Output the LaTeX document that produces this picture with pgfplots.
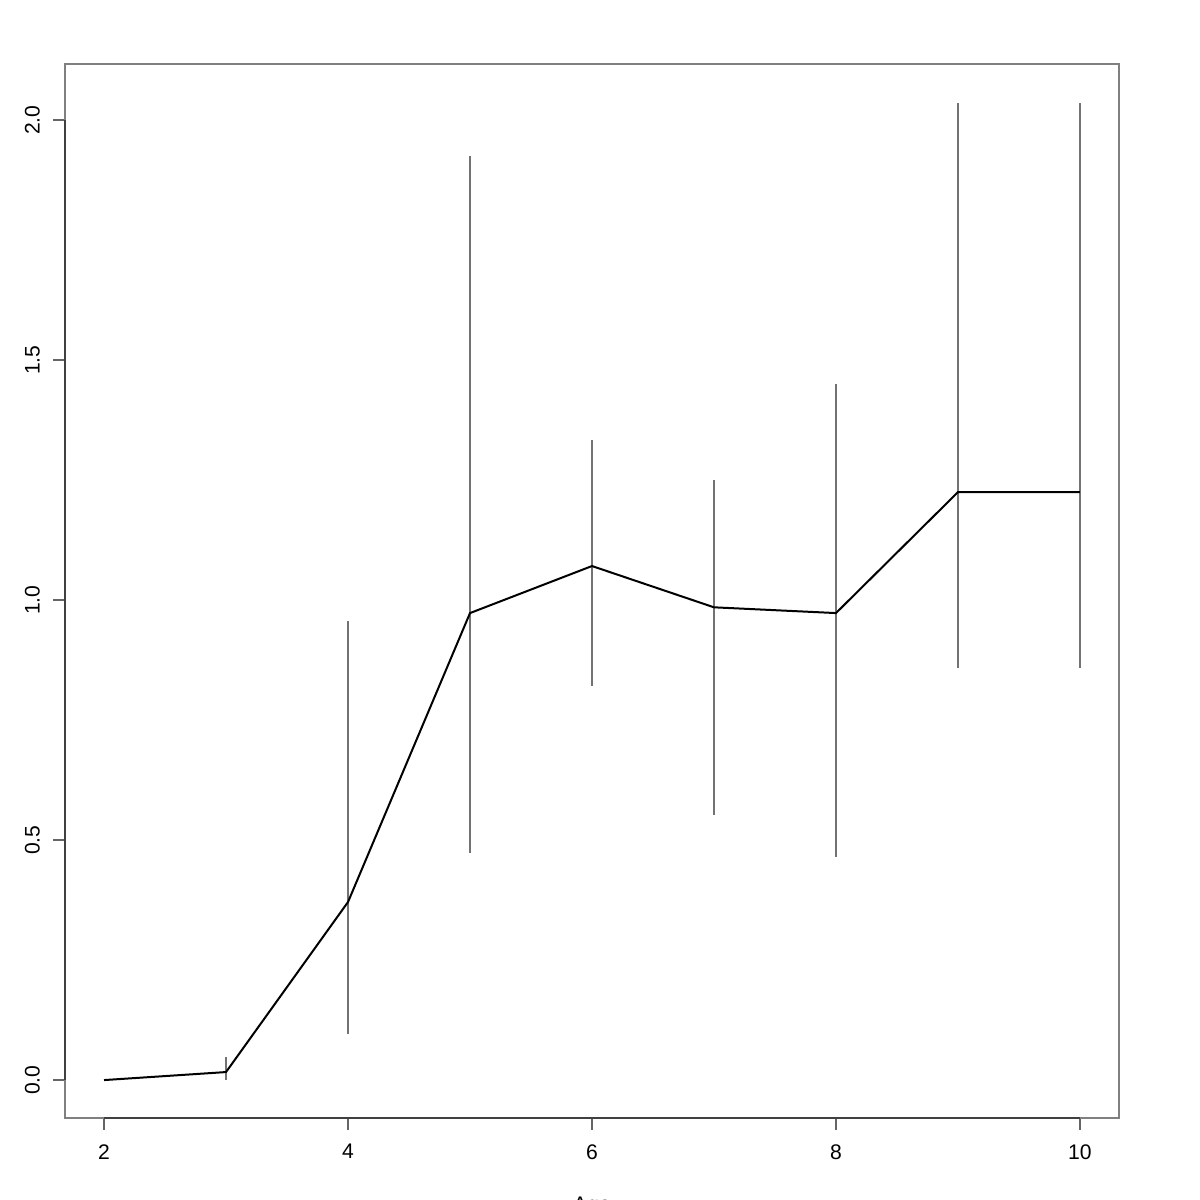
\documentclass[border=0pt]{standalone}
\usepackage{pgfplots}
\pgfplotsset{compat=1.18}
\usepackage{pgfplotstable}
\usepackage{fontspec}
\setmainfont{Liberation Sans}
\pgfplotstableread{
x y ep em
2 0.000 0.000 0.000
3 0.0167 0.031 0.0167
4 0.371 0.585 0.275
5 0.973 0.952 0.500
6 1.071 0.262 0.250
7 0.985 0.265 0.433
8 0.973 0.477 0.508
9 1.225 0.810 0.367
10 1.225 0.810 0.367
}\datatable
\begin{document}
\begin{tikzpicture}
\begin{axis}[
  scale only axis,
  width=379.44pt, height=379.44pt,
  at={(23.4pt,29.52pt)}, anchor=south west,
  xmin=1.68, xmax=10.32,
  ymin=-0.079, ymax=2.117,
  xtick={2,4,6,8,10},
  ytick={0,0.5,1,1.5,2},
  yticklabels={\rotatebox{90}{0.0},\rotatebox{90}{0.5},\rotatebox{90}{1.0},\rotatebox{90}{1.5},\rotatebox{90}{2.0}},
  tick align=outside,
  major tick length=4.3pt,
  tick style={line width=0.5pt, black!60},
  xtick pos=bottom, ytick pos=left,
  axis line style={line width=0.5pt, black!50},
  /pgf/number format/assume math mode=true,
  font=\fontsize{7.6pt}{9pt}\selectfont,
  xticklabel style={anchor=north, inner sep=0pt, yshift=-5pt},
  yticklabel style={anchor=east, inner sep=0pt, xshift=-4.6pt},
  xlabel={Age},
  xlabel style={at={(axis description cs:0.5,0)}, anchor=north, inner sep=0pt, yshift=-28.4pt},
  clip=false,
]
\draw[black!75, line width=0.5pt] (axis cs:2,-0.079) -- (axis cs:10,-0.079);
\draw[black!75, line width=0.5pt] (axis cs:1.68,0) -- (axis cs:1.68,2);
\addplot[draw=none, mark=none,
  error bars/.cd, y dir=both, y explicit, error mark=none,
  error bar style={line width=0.5pt, black!55}]
  table[x=x, y=y, y error plus=ep, y error minus=em] {\datatable};
\addplot[black, line width=0.72pt, mark=none] table[x=x, y=y] {\datatable};
\end{axis}
\pgfresetboundingbox
\path (0,0) rectangle (432pt,432pt);
\end{tikzpicture}
\end{document}
